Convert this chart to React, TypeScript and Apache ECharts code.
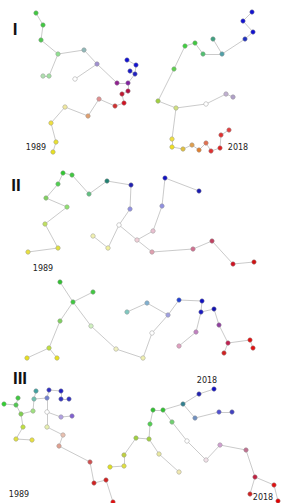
import React, { useEffect, useRef } from "react";
import * as echarts from "echarts";

// Node positions (x, y in chart units) and year colours for each tree
const treeIL_x = [36, 43, 41, 58, 43, 49, 84, 97, 75, 117, 128, 127, 136, 130, 135, 128, 122, 124, 115, 99, 88, 65, 51, 56, 53];
const treeIL_y = [13, 25, 40, 54, 76, 76, 50, 64, 79, 83, 83, 60, 65, 71, 74, 91, 94, 103, 106, 99, 116, 107, 123, 142, 152];
const treeIL_c = ["#40c840", "#40c840", "#50c850", "#90e090", "#b0e0b0", "#a0e0a0", "#90b8b8", "#a090d0", "#ffffff", "#902090", "#8020a0", "#1010d0", "#1010d0", "#1818c8", "#2020c0", "#b01040", "#c01830", "#d01020", "#d03030", "#e09090", "#e0a070", "#f0e8a0", "#f0e040", "#e8e030", "#e8e020"];
const treeIL_e = [[0, 1], [1, 2], [2, 3], [3, 6], [3, 5], [5, 4], [6, 7], [7, 8], [7, 9], [9, 10], [10, 14], [14, 13], [14, 12], [12, 11], [10, 15], [15, 16], [16, 17], [17, 18], [18, 19], [19, 20], [20, 21], [21, 22], [22, 23], [23, 24]];

const treeIR_x = [252, 243, 253, 245, 222, 213, 203, 195, 185, 174, 158, 176, 206, 226, 233, 172, 172, 183, 192, 199, 206, 211, 220, 221, 229];
const treeIR_y = [12, 21, 32, 39, 54, 39, 54, 43, 46, 69, 101, 108, 104, 94, 97, 139, 147, 149, 145, 150, 143, 151, 148, 135, 130];
const treeIR_c = ["#1010d0", "#1010d0", "#1010d0", "#2030c0", "#50a0a8", "#40a080", "#50c070", "#40c840", "#40d040", "#60d050", "#a0d040", "#d0e080", "#ffffff", "#c0b0d0", "#b0a0c8", "#f0e040", "#f0e020", "#e0c040", "#e0a050", "#e08030", "#e07050", "#e03030", "#e02020", "#e03030", "#e04040"];
const treeIR_e = [[0, 1], [1, 2], [2, 3], [3, 4], [4, 5], [4, 6], [6, 7], [7, 8], [8, 9], [9, 10], [10, 11], [11, 12], [12, 13], [13, 14], [11, 15], [15, 16], [16, 17], [17, 18], [18, 19], [19, 20], [20, 21], [21, 22], [22, 23], [23, 24]];

const treeIIa_x = [28, 58, 45, 67, 46, 58, 63, 72, 89, 107, 131, 130, 119, 108, 93, 137, 153, 162, 165, 199, 152, 193, 212, 233, 254];
const treeIIa_y = [252, 248, 224, 207, 198, 184, 173, 175, 194, 181, 185, 209, 225, 248, 236, 240, 231, 206, 178, 191, 252, 249, 241, 264, 262];
const treeIIa_c = ["#e8e040", "#e0e040", "#c0e060", "#90e070", "#80d060", "#50d050", "#30c830", "#40c840", "#60c080", "#208070", "#2020b0", "#9090e0", "#ffffff", "#f0f0a0", "#f0f0b0", "#f0d0d8", "#e8c0d0", "#9090e0", "#1010c0", "#1818b0", "#e0a0b0", "#d07090", "#c04060", "#d01020", "#d01010"];
const treeIIa_e = [[0, 1], [1, 2], [2, 3], [3, 4], [4, 5], [5, 6], [6, 7], [7, 8], [8, 9], [9, 10], [10, 11], [11, 12], [12, 13], [13, 14], [12, 15], [15, 16], [16, 17], [17, 18], [18, 19], [15, 20], [20, 21], [21, 22], [22, 23], [23, 24]];

const treeIIb_x = [60, 93, 73, 60, 49, 27, 57, 91, 116, 143, 152, 168, 147, 127, 179, 202, 201, 214, 219, 228, 250, 253, 224, 196, 179];
const treeIIb_y = [282, 292, 302, 321, 348, 358, 358, 326, 349, 358, 333, 315, 303, 312, 300, 301, 312, 309, 325, 343, 340, 348, 353, 332, 346];
const treeIIb_c = ["#30c030", "#40c840", "#40c840", "#80d060", "#c0e040", "#e8e020", "#e8e020", "#d0f0c0", "#f0f0c0", "#f0f0b0", "#ffffff", "#a0a0e0", "#80b0d0", "#80c8c0", "#2040d0", "#1010c0", "#1818c0", "#1010b0", "#9040a0", "#c02050", "#e01010", "#e01010", "#d02020", "#c080c0", "#e0a0c0"];
const treeIIb_e = [[0, 2], [1, 2], [2, 3], [3, 4], [4, 5], [4, 6], [2, 7], [7, 8], [8, 9], [9, 10], [10, 11], [11, 12], [12, 13], [11, 14], [14, 15], [15, 16], [16, 17], [17, 18], [18, 19], [19, 20], [20, 21], [19, 22], [16, 23], [23, 24]];

const treeIIIa_x = [36, 49, 61, 61, 69, 47, 34, 18, 4, 16, 33, 21, 47, 61, 72, 23, 47, 16, 32, 63, 59, 90, 94, 106, 113];
const treeIIIa_y = [391, 390, 391, 399, 399, 398, 399, 398, 404, 405, 411, 414, 412, 417, 416, 427, 427, 439, 440, 435, 446, 462, 483, 480, 502];
const treeIIIa_c = ["#40a0a0", "#3030c0", "#2020c0", "#3030c0", "#3030c0", "#7080d0", "#70c0b0", "#40c840", "#30d030", "#50c850", "#a0e080", "#80d050", "#ffffff", "#b0a0e0", "#8060d0", "#c0e040", "#e8f0b0", "#e0e040", "#e8e040", "#e8c0b0", "#e0a090", "#d05050", "#d02020", "#d02020", "#e01010"];
const treeIIIa_e = [[1, 2], [2, 3], [3, 4], [1, 5], [0, 6], [6, 5], [6, 10], [10, 11], [11, 9], [9, 8], [9, 7], [11, 15], [15, 17], [17, 18], [5, 12], [12, 13], [13, 14], [12, 16], [16, 19], [19, 20], [20, 21], [21, 22], [22, 23], [23, 24]];

const treeIIIb_x = [214, 199, 183, 163, 153, 150, 149, 136, 124, 124, 110, 159, 179, 195, 219, 232, 172, 187, 206, 220, 246, 255, 274, 250, 278];
const treeIIIb_y = [389, 394, 404, 410, 410, 424, 439, 438, 455, 466, 467, 454, 472, 418, 412, 412, 422, 441, 460, 445, 450, 477, 485, 494, 501];
const treeIIIb_c = ["#1010c0", "#2020b0", "#308090", "#30c030", "#30c030", "#50d050", "#a0d040", "#a0d040", "#c0d040", "#e0e040", "#e0e020", "#e8e8a0", "#f0e8b0", "#7090c0", "#5050d0", "#4040c0", "#70d070", "#ffffff", "#f0e0e8", "#d0a0d0", "#c07090", "#c02040", "#e01010", "#d02020", "#e00000"];
const treeIIIb_e = [[0, 1], [1, 2], [2, 3], [3, 4], [4, 5], [5, 6], [6, 7], [7, 8], [8, 9], [9, 10], [6, 11], [11, 12], [2, 13], [13, 14], [14, 15], [3, 16], [16, 17], [17, 18], [18, 19], [19, 20], [20, 21], [21, 22], [22, 24], [21, 23]];

const panelLabels = ["I", "II", "III"];
const yearLabels = ["1989", "2018", "1989", "2018", "1989", "2018"];

const trees = [
  [treeIL_x, treeIL_y, treeIL_c, treeIL_e],
  [treeIR_x, treeIR_y, treeIR_c, treeIR_e],
  [treeIIa_x, treeIIa_y, treeIIa_c, treeIIa_e],
  [treeIIb_x, treeIIb_y, treeIIb_c, treeIIb_e],
  [treeIIIa_x, treeIIIa_y, treeIIIa_c, treeIIIa_e],
  [treeIIIb_x, treeIIIb_y, treeIIIb_c, treeIIIb_e],
] as [number[], number[], string[], number[][]][];

export default function App() {
  const ref = useRef<HTMLDivElement>(null);
  useEffect(() => {
    if (!ref.current) return;
    const chart = echarts.init(ref.current, null, { renderer: "svg" });
    const series = trees.map(([xs, ys, cs, es]) => ({
      type: "graph",
      coordinateSystem: "cartesian2d",
      layout: "none",
      symbol: "circle",
      symbolSize: 4.5,
      silent: true,
      z: 2,
      data: xs.map((x, i) => ({
        value: [x, ys[i]],
        itemStyle: { color: cs[i], borderColor: "#999999", borderWidth: 0.5 },
      })),
      links: es.map(([s, t]) => ({ source: s, target: t })),
      lineStyle: { color: "#bdbdbd", width: 0.8, opacity: 1, curveness: 0 },
      label: { show: false },
      emphasis: { disabled: true },
    }));
    const panelPos = [[15, 29], [16, 185], [20, 378]];
    const yearPos = [[36, 147], [238, 147], [43, 268], [207, 380], [19, 494], [263, 497]];
    const graphic: any[] = [];
    panelLabels.forEach((t, i) =>
      graphic.push({
        type: "text",
        x: panelPos[i][0],
        y: panelPos[i][1],
        style: {
          text: t,
          font: "bold 17px 'Liberation Sans', Arial, sans-serif",
          fill: "#111",
          align: "center",
          verticalAlign: "middle",
        },
      })
    );
    yearLabels.forEach((t, i) =>
      graphic.push({
        type: "text",
        x: yearPos[i][0],
        y: yearPos[i][1],
        style: {
          text: t,
          font: "8px 'DejaVu Sans', Arial, sans-serif",
          fill: "#222",
          align: "center",
          verticalAlign: "middle",
        },
      })
    );
    chart.setOption({
      animation: false,
      backgroundColor: "#ffffff",
      grid: { left: 0, right: 0, top: 0, bottom: 0 },
      xAxis: { type: "value", min: 0, max: 281, show: false },
      yAxis: { type: "value", min: 0, max: 503, inverse: true, show: false },
      series,
      graphic,
    });
    return () => chart.dispose();
  }, []);
  return (
    <div
      ref={ref}
      style={{ position: "fixed", left: 0, top: 0, width: 281, height: 503 }}
    />
  );
}
